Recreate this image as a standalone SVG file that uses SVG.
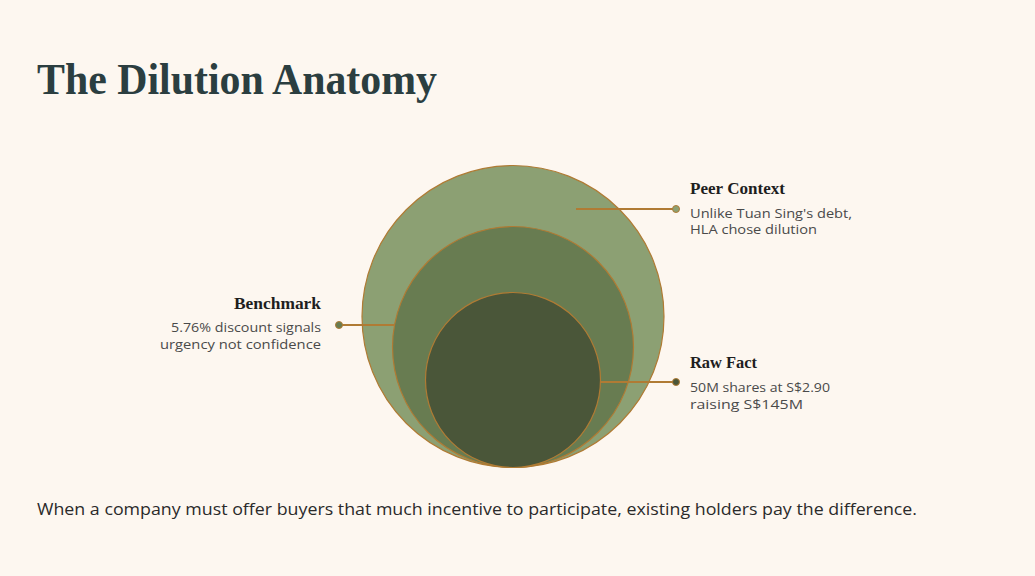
<svg xmlns="http://www.w3.org/2000/svg" width="1035" height="576" viewBox="0 0 1035 576">
<style>
.title{font-family:"Liberation Serif","DejaVu Serif",serif;font-weight:bold;font-size:44px;fill:#2b3e40}
.lbl{font-family:"Liberation Serif","DejaVu Serif",serif;font-weight:bold;font-size:16.5px;fill:#1e1e1e}
.desc{font-family:"Open Sans","Noto Sans",sans-serif;font-size:13.5px;fill:#4a4a4a}
.foot{font-family:"Open Sans","Noto Sans",sans-serif;font-size:17px;fill:#2a2a2a}
.ring{stroke:#b07b34;stroke-width:1.2}
.conn{stroke:#b07b34;stroke-width:2;fill:none}
</style>
<rect width="1035" height="576" fill="#fdf7f0"/>
<text class="title" x="37" y="94" textLength="400" lengthAdjust="spacingAndGlyphs">The Dilution Anatomy</text>
<g id="peer-context-circle"><circle class="ring" cx="513" cy="316.5" r="151" fill="#8ca073"/></g>
<g id="benchmark-circle"><circle class="ring" cx="513" cy="347" r="120.5" fill="#687c51"/></g>
<g id="raw-fact-circle"><circle class="ring" cx="513" cy="380" r="87.5" fill="#4a5639"/></g>
<g id="connectors">
<line class="conn" x1="576" y1="209" x2="676" y2="209"/>
<circle cx="676" cy="209" r="3.5" fill="#8ca073" stroke="#b07b34" stroke-width="1"/>
<line class="conn" x1="339" y1="325" x2="394" y2="325"/>
<circle cx="339" cy="325" r="3.5" fill="#687c51" stroke="#b07b34" stroke-width="1"/>
<line class="conn" x1="600" y1="382" x2="676" y2="382"/>
<circle cx="676" cy="382" r="3.5" fill="#4a5639" stroke="#b07b34" stroke-width="1"/>
</g>
<g id="peer-context">
<text class="lbl" x="690" y="194" textLength="95" lengthAdjust="spacingAndGlyphs">Peer Context</text>
<text class="desc" x="690" y="218" textLength="162" lengthAdjust="spacingAndGlyphs">Unlike Tuan Sing's debt,</text>
<text class="desc" x="690" y="234" textLength="127" lengthAdjust="spacingAndGlyphs">HLA chose dilution</text>
</g>
<g id="benchmark">
<text class="lbl" x="234" y="309" textLength="87" lengthAdjust="spacingAndGlyphs">Benchmark</text>
<text class="desc" x="171" y="332" textLength="150" lengthAdjust="spacingAndGlyphs">5.76% discount signals</text>
<text class="desc" x="160" y="349" textLength="161" lengthAdjust="spacingAndGlyphs">urgency not confidence</text>
</g>
<g id="raw-fact">
<text class="lbl" x="690" y="368" textLength="67" lengthAdjust="spacingAndGlyphs">Raw Fact</text>
<text class="desc" x="690" y="392" textLength="140" lengthAdjust="spacingAndGlyphs">50M shares at S$2.90</text>
<text class="desc" x="690" y="409" textLength="113" lengthAdjust="spacingAndGlyphs">raising S$145M</text>
</g>
<text class="foot" x="37" y="515" textLength="880" lengthAdjust="spacingAndGlyphs">When a company must offer buyers that much incentive to participate, existing holders pay the difference.</text>
</svg>
